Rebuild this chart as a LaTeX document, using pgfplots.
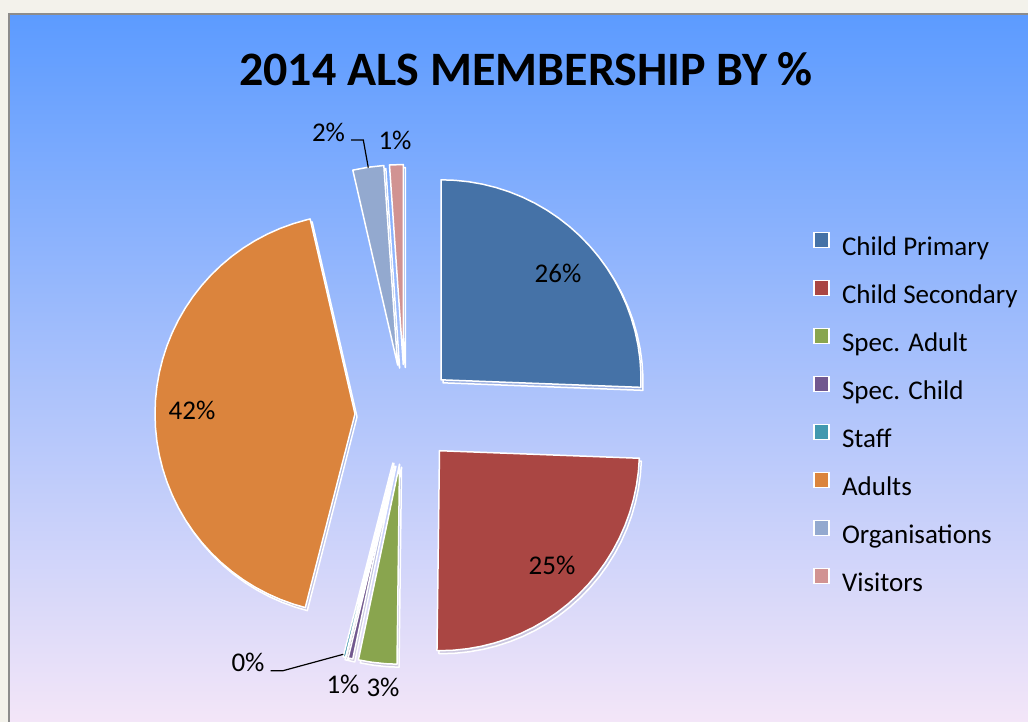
\documentclass[border=0pt]{standalone}
\usepackage{fontspec}
\setmainfont{Carlito}
\usepackage{pgfplots}
\pgfplotsset{compat=1.18}

\definecolor{cp}{HTML}{4572A7}
\definecolor{cs}{HTML}{AA4643}
\definecolor{sa}{HTML}{89A54E}
\definecolor{sc}{HTML}{71588F}
\definecolor{stf}{HTML}{4198AF}
\definecolor{adl}{HTML}{DB843D}
\definecolor{org}{HTML}{93A9CF}
\definecolor{vis}{HTML}{D19392}
\definecolor{outer}{RGB}{243,242,235}

\begin{document}
\begin{tikzpicture}
\begin{axis}[
    x=0.5pt, y=0.5pt,
    xmin=-405, xmax=623, ymin=-307.5, ymax=414.5,
    hide axis, clip=false,
    slice/.style={draw=white, line width=0.75pt, line join=round, data cs=polar, forget plot,
        preaction={fill=black, fill opacity=0.1, transform canvas={shift={(1pt,-1.5pt)}}}},
    legend image code/.code={\draw[#1, draw=white, line width=0.6pt] (0pt,0.6pt) rectangle (7.5pt,8.1pt);
        \path (13.8pt,4pt);},
    legend cell align=left,
    legend style={draw=none, fill=none, inner sep=0pt, row sep=0pt, column sep=0pt,
        at={(0.7909,0.689)}, anchor=north west,
        font=\fontsize{13.5}{16}\selectfont,
        nodes={inner xsep=0pt, inner ysep=5.5pt, text height=10pt, text depth=3pt}},
]
\coordinate (SW) at (rel axis cs:0,0);
\coordinate (NE) at (rel axis cs:1,1);
% background: chart area with gradient, page margin on top and left
\shade[top color={rgb,255:red,92;green,155;blue,255}, middle color={rgb,255:red,156;green,199;blue,244}, bottom color={rgb,255:red,246;green,231;blue,248}] (axis cs:-396,-320) rectangle (axis cs:640,400.5);
\fill[outer] (axis cs:-410,400.5) rectangle (axis cs:640,420);
\fill[outer] (axis cs:-410,-320) rectangle (axis cs:-396,400.5);
\draw[color={rgb,255:red,140;green,140;blue,140}, line width=1pt] (axis cs:-396,-320) -- (axis cs:-396,400.5) -- (axis cs:640,400.5);

% slices: (angle, radius), pie centre at origin, exploded by 50
\addplot[slice, fill=cp, xshift=18.01pt, yshift=17.34pt] coordinates {
(0,0) (90,200) (86,200) (82,200) (78,200) (74,200) (70,200) (66,200) (62,200) (58,200) (54,200) (50,200) (46,200) (42,200) (38,200) (34,200) (30,200) (26,200) (22,200) (18,200) (14,200) (10,200) (6,200) (2,200) (-2.16,200)} -- cycle;
\addplot[slice, fill=cs, xshift=17.24pt, yshift=-18.11pt] coordinates {
(0,0) (-2.16,200) (-6,200) (-10,200) (-14,200) (-18,200) (-22,200) (-26,200) (-30,200) (-34,200) (-38,200) (-42,200) (-46,200) (-50,200) (-54,200) (-58,200) (-62,200) (-66,200) (-70,200) (-74,200) (-78,200) (-82,200) (-86,200) (-90,200) (-90.72,200)} -- cycle;
\addplot[slice, fill=sa, xshift=-2.74pt, yshift=-24.85pt] coordinates {
(0,0) (-90.72,200) (-94,200) (-98,200) (-101.88,200)} -- cycle;
\addplot[slice, fill=sc, xshift=-5.53pt, yshift=-24.38pt] coordinates {
(0,0) (-101.88,200) (-103.68,200)} -- cycle;
\addplot[slice, fill=stf, xshift=-6.07pt, yshift=-24.25pt] coordinates {
(0,0) (-103.68,200) (-104.4,200)} -- cycle;
\addplot[slice, fill=adl, xshift=-25pt, yshift=0.31pt] coordinates {
(0,0) (-104.4,200) (-108,200) (-112,200) (-116,200) (-120,200) (-124,200) (-128,200) (-132,200) (-136,200) (-140,200) (-144,200) (-148,200) (-152,200) (-156,200) (-160,200) (-164,200) (-168,200) (-172,200) (-176,200) (-180,200) (-184,200) (-188,200) (-192,200) (-196,200) (-200,200) (-204,200) (-208,200) (-212,200) (-216,200) (-220,200) (-224,200) (-228,200) (-232,200) (-236,200) (-240,200) (-244,200) (-248,200) (-252,200) (-256,200) (-257.04,200)} -- cycle;
\addplot[slice, fill=org, xshift=-3.68pt, yshift=24.73pt] coordinates {
(0,0) (102.96,200) (98.5,200) (93.96,200)} -- cycle;
\addplot[slice, fill=vis, xshift=-0.86pt, yshift=24.99pt] coordinates {
(0,0) (93.96,200) (90,200)} -- cycle;

% leader lines
\addplot[black, line width=0.6pt, forget plot] coordinates {(-54,274.5) (-41.7,274.5) (-36.7,246.8)};
\addplot[black, line width=0.6pt, forget plot] coordinates {(-134.3,-256.2) (-122,-256.2) (-61.7,-239.8)};

% data labels
\begin{scope}[every node/.style={font=\fontsize{13.5}{16}\selectfont, anchor=base, inner sep=0pt}]
\node at (axis cs:153,132.2) {26\%};
\node at (axis cs:147,-159.8) {25\%};
\node at (axis cs:-213,-5.5) {42\%};
\node at (axis cs:-76.5,272.8) {2\%};
\node at (axis cs:-10,265.2) {1\%};
\node at (axis cs:-157,-257.2) {0\%};
\node at (axis cs:-62,-278.8) {1\%};
\node at (axis cs:-22,-282.2) {3\%};
\end{scope}

\node[font=\bfseries\fontsize{24}{28}\selectfont, anchor=base, inner sep=0pt] at (axis cs:121,329) {2014 ALS MEMBERSHIP BY \%};

\addlegendimage{fill=cp}\addlegendentry{Child Primary}
\addlegendimage{fill=cs}\addlegendentry{Child Secondary}
\addlegendimage{fill=sa}\addlegendentry{Spec. Adult}
\addlegendimage{fill=sc}\addlegendentry{Spec. Child}
\addlegendimage{fill=stf}\addlegendentry{Staff}
\addlegendimage{fill=adl}\addlegendentry{Adults}
\addlegendimage{fill=org}\addlegendentry{Organisations}
\addlegendimage{fill=vis}\addlegendentry{Visitors}
\end{axis}
\pgfresetboundingbox
\useasboundingbox (SW) rectangle (NE);
\end{tikzpicture}
\end{document}
